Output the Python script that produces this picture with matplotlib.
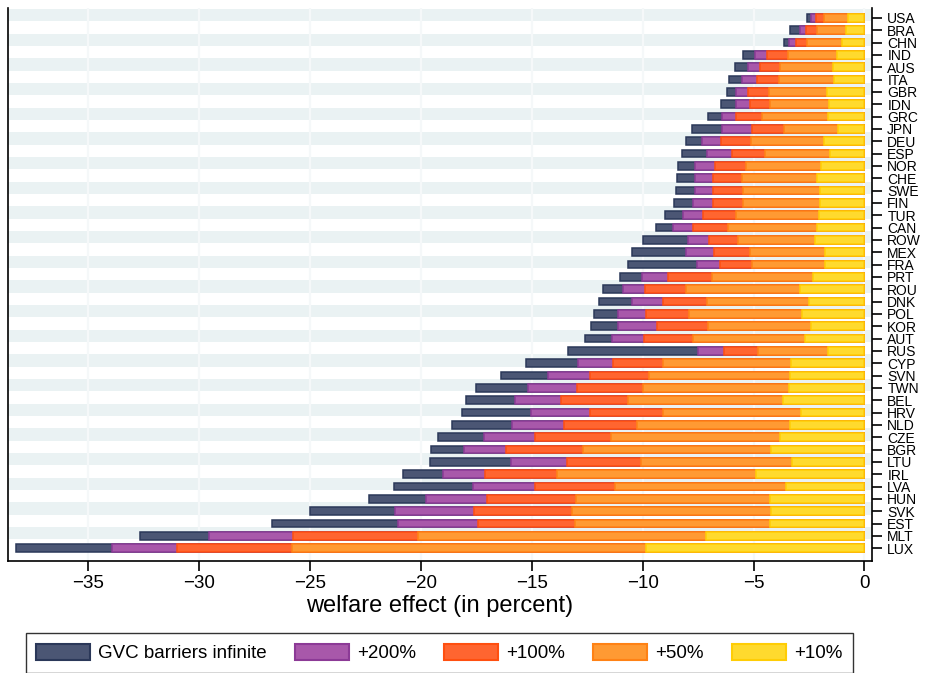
import matplotlib.pyplot as plt
from matplotlib.patches import Patch

plt.rcParams['font.family'] = ['Liberation Sans', 'DejaVu Sans']

# countries, top to bottom
countries = ["USA", "BRA", "CHN", "IND", "AUS", "ITA", "GBR", "IDN", "GRC", "JPN",
             "DEU", "ESP", "NOR", "CHE", "SWE", "FIN", "TUR", "CAN", "ROW", "MEX",
             "FRA", "PRT", "ROU", "DNK", "POL", "KOR", "AUT", "RUS", "CYP", "SVN",
             "TWN", "BEL", "HRV", "NLD", "CZE", "BGR", "LTU", "IRL", "LVA", "HUN",
             "SVK", "EST", "MLT", "LUX"]

# welfare effect in percent for each scenario
gvc_inf = [-2.58, -3.35, -3.65, -5.47, -5.84, -6.10, -6.22, -6.46, -7.05, -7.77,
           -8.04, -8.22, -8.40, -8.44, -8.49, -8.58, -8.98, -9.39, -9.98, -10.47,
           -10.65, -11.01, -11.78, -11.96, -12.19, -12.32, -12.59, -13.36, -15.25, -16.38,
           -17.51, -17.98, -18.17, -18.60, -19.24, -19.56, -19.59, -20.82, -21.23, -22.36,
           -24.99, -26.74, -32.66, -38.26]
plus200 = [-2.41, -2.91, -3.41, -4.93, -5.27, -5.53, -5.78, -5.80, -6.43, -6.41,
           -7.32, -7.10, -7.63, -7.63, -7.63, -7.72, -8.19, -8.64, -7.96, -8.05,
           -7.55, -10.04, -10.88, -10.47, -11.10, -11.10, -11.38, -7.50, -12.91, -14.27,
           -15.19, -15.78, -15.05, -15.91, -17.18, -18.07, -15.95, -18.99, -17.67, -19.79,
           -21.17, -21.02, -29.55, -33.93]
plus100 = [-2.19, -2.64, -3.10, -4.40, -4.70, -4.85, -5.24, -5.18, -5.78, -5.07,
           -6.46, -5.96, -6.73, -6.82, -6.82, -6.83, -7.28, -7.74, -7.01, -6.79,
           -6.52, -8.86, -9.89, -9.08, -9.85, -9.36, -9.94, -6.34, -11.33, -12.40,
           -12.97, -13.69, -12.36, -13.53, -14.86, -16.16, -13.40, -17.10, -14.86, -17.02,
           -17.63, -17.45, -25.78, -31.00]
plus50 = [-1.83, -2.14, -2.59, -3.45, -3.81, -3.86, -4.31, -4.26, -4.62, -3.63,
          -5.12, -4.49, -5.35, -5.53, -5.48, -5.47, -5.80, -6.16, -5.71, -5.16,
          -5.07, -6.88, -8.05, -7.10, -7.91, -7.05, -7.72, -4.80, -9.08, -9.70,
          -9.97, -10.65, -9.07, -10.24, -11.45, -12.70, -10.08, -13.87, -11.24, -12.99,
          -13.19, -13.05, -20.14, -25.82]
plus10 = [-0.76, -0.83, -1.01, -1.23, -1.42, -1.38, -1.69, -1.60, -1.65, -1.20,
          -1.83, -1.56, -1.96, -2.14, -2.01, -2.01, -2.05, -2.14, -2.23, -1.78,
          -1.78, -2.32, -2.91, -2.50, -2.82, -2.41, -2.68, -1.65, -3.31, -3.36,
          -3.42, -3.69, -2.88, -3.36, -3.79, -4.22, -3.28, -4.90, -3.56, -4.28,
          -4.22, -4.28, -7.16, -9.87]

labels = ["GVC barriers infinite", "+200%", "+100%", "+50%", "+10%"]
faces = ["#4b5674", "#a858aa", "#ff6530", "#ff9a33", "#ffda2e"]
edges = ["#2b3859", "#8c3a96", "#ff4f10", "#ff8215", "#ffcd05"]
xticks = [-35, -30, -25, -20, -15, -10, -5, 0]

fig = plt.figure(figsize=(9.25, 6.73), dpi=100)
ax = fig.add_axes([8/925, 112/673, 864/925, 553/673])

rows = list(range(len(countries)))

# alternating row stripes
for i in range(0, len(countries), 2):
    ax.axhspan(i - 0.73, i + 0.27, color="#eaf2f3", lw=0, zorder=0)
for t in xticks:
    ax.axvline(t, color="#f5f8f9", lw=1.6, zorder=1)

for vals, fc, ec in zip([gvc_inf, plus200, plus100, plus50, plus10], faces, edges):
    ax.barh(rows, vals, height=0.62, color=fc, edgecolor=ec, linewidth=1.1, zorder=3)

ax.set_xlim(-38.63, 0.34)
ax.set_ylim(44.04, -0.81)

ax.spines["top"].set_visible(False)
for s in ["left", "bottom", "right"]:
    ax.spines[s].set_linewidth(1.2)

ax.yaxis.tick_right()
ax.set_yticks(rows)
ax.set_yticklabels(countries)
ax.tick_params(axis="y", length=7, width=1.2, pad=4, labelsize=10)
ax.set_xticks(xticks)
ax.tick_params(axis="x", length=7, width=1.2, pad=3, labelsize=13.5)
ax.set_xlabel("welfare effect (in percent)", fontsize=17, labelpad=2)

handles = [Patch(facecolor=fc, edgecolor=ec, linewidth=1.5) for fc, ec in zip(faces, edges)]
leg = fig.legend(handles, labels, loc="center", bbox_to_anchor=(439.5/925, 1 - 653/673),
                 ncol=5, fontsize=13.5, frameon=True, fancybox=False, edgecolor="black",
                 handlelength=2.85, handleheight=1.0, handletextpad=0.46,
                 columnspacing=1.5, borderpad=0.55)
leg.get_frame().set_linewidth(1.0)

fig.savefig("out.png", dpi=100)
